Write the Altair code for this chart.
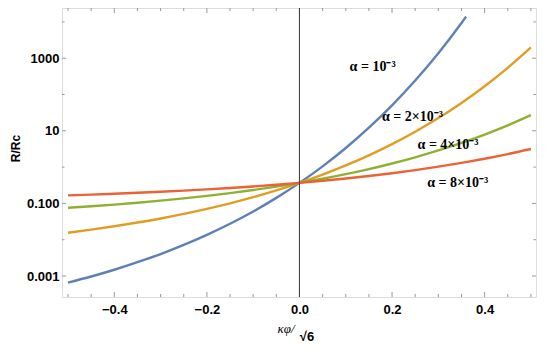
import altair as alt
import pandas as pd

# ---- data ----
x_full = [-0.5, -0.45, -0.4, -0.35, -0.3, -0.25, -0.2, -0.15, -0.1, -0.05, 0.0,
          0.05, 0.1, 0.15, 0.2, 0.25, 0.3, 0.35, 0.4, 0.45, 0.5]
x_blue = [-0.5, -0.45, -0.4, -0.35, -0.3, -0.25, -0.2, -0.15, -0.1, -0.05, 0.0,
          0.05, 0.1, 0.15, 0.2, 0.25, 0.3, 0.35, 0.36]

r_alpha1 = [6.6e-4, 9.7e-4, 1.49e-3, 2.40e-3, 4.04e-3, 7.2e-3, 0.0136, 0.0275, 0.060,
            0.142, 0.368, 1.05, 3.37, 12.2, 50.3, 242, 1370, 9310, 14000]
r_alpha2 = [0.0156, 0.0189, 0.0234, 0.0297, 0.0385, 0.0514, 0.0708, 0.1007, 0.1486,
            0.2286, 0.368, 0.623, 1.113, 2.116, 4.30, 9.43, 22.4, 58.5, 169, 543, 1980]
r_alpha4 = [0.0757, 0.0834, 0.0928, 0.1045, 0.119, 0.1375, 0.1614, 0.1924, 0.2339,
            0.290, 0.368, 0.4786, 0.640, 0.882, 1.258, 1.862, 2.873, 4.64, 7.88, 14.1, 27.0]
r_alpha8 = [0.167, 0.175, 0.185, 0.196, 0.209, 0.225, 0.2436, 0.266, 0.2933, 0.3266,
            0.368, 0.4196, 0.485, 0.570, 0.680, 0.828, 1.028, 1.306, 1.702, 2.28, 3.15]

series_keys = ["a1", "a2", "a4", "a8"]
series_colors = ["#5E81B5", "#E19C24", "#8FB032", "#EB6235"]

label_text = ["α = 10⁻³", "α = 2×10⁻³", "α = 4×10⁻³", "α = 8×10⁻³"]
label_x = [0.158, 0.244, 0.321, 0.342]
label_y = [573, 24, 4.06, 0.365]

x_major = [-0.4, -0.2, 0.0, 0.2, 0.4]
x_minor = [-0.5, -0.45, -0.35, -0.3, -0.25, -0.15, -0.1, -0.05, 0.05, 0.1, 0.15,
           0.25, 0.3, 0.35, 0.45, 0.5]
y_major = [0.001, 0.1, 10, 1000]
y_minor = [0.01, 1, 100, 10000]

# ---- build table ----
rows = []
for key, xs, ys in [("a1", x_blue, r_alpha1), ("a2", x_full, r_alpha2),
                    ("a4", x_full, r_alpha4), ("a8", x_full, r_alpha8)]:
    for xv, yv in zip(xs, ys):
        rows.append({"x": xv, "y": yv, "series": key})
df = pd.DataFrame(rows)

W, H = 474, 289
FRAME = "#999999"

xscale = alt.Scale(domain=[-0.513, 0.511], nice=False, zero=False)
yscale = alt.Scale(type="log", domain=[10 ** -3.578, 10 ** 4.383], nice=False)

x_axis = alt.Axis(values=x_major, format=".1f", labelFont="Liberation Sans",
                  labelFontWeight="bold", labelFontSize=13, labelColor="black",
                  ticks=False, domain=False, grid=False, labelPadding=6, title=None)
y_axis = alt.Axis(values=y_major,
                  labelExpr="datum.value >= 1 ? format(datum.value, 'd') : format(datum.value, '.3f')",
                  labelFont="Liberation Sans", labelFontWeight="bold", labelFontSize=13,
                  labelColor="black", ticks=False, domain=False, grid=False, labelPadding=3,
                  title="R/Rc", titleFont="Liberation Sans", titleFontWeight="bold",
                  titleFontSize=12, titleColor="black", titleX=-47, titleY=140,
                  titleAlign="center", titleBaseline="middle", titleAngle=270)


def X(field):
    return alt.X(field, scale=xscale, axis=x_axis)


def Y(field):
    return alt.Y(field, scale=yscale, axis=y_axis)


lines = alt.Chart(df).mark_line(strokeWidth=2.4, interpolate="monotone", clip=True).encode(
    x=X("x:Q"),
    y=Y("y:Q"),
    color=alt.Color("series:N", scale=alt.Scale(domain=series_keys, range=series_colors),
                    legend=None),
)

zero_line = alt.Chart(pd.DataFrame({"x": [0.0]})).mark_rule(color="#444444", strokeWidth=1.1).encode(
    x=X("x:Q")
)


def xticks(vals, y0, y1):
    return alt.Chart(pd.DataFrame({"x": vals})).mark_rule(color=FRAME, strokeWidth=1).encode(
        x=X("x:Q"), y=alt.value(y0), y2=alt.value(y1))


def yticks(vals, x0, x1):
    return alt.Chart(pd.DataFrame({"y": vals})).mark_rule(color=FRAME, strokeWidth=1).encode(
        y=Y("y:Q"), x=alt.value(x0), x2=alt.value(x1))


ticks = [
    xticks(x_major, H, H - 5), xticks(x_minor, H, H - 3),
    xticks(x_major, 0, 5), xticks(x_minor, 0, 3),
    yticks(y_major, 0, 4), yticks(y_minor, 0, 2.5),
    yticks(y_major, W, W - 4), yticks(y_minor, W, W - 2.5),
]

labels = alt.Chart(pd.DataFrame({"t": label_text, "x": label_x, "y": label_y})).mark_text(
    font="Liberation Serif", fontWeight="bold", fontSize=14, color="black",
    align="center", baseline="middle"
).encode(
    x=X("x:Q"),
    y=Y("y:Q"),
    text="t:N",
)

xtitle1 = alt.Chart(pd.DataFrame({"t": ["κφ/"]})).mark_text(
    font="Liberation Serif", fontStyle="italic", fontSize=13, color="black",
    align="center", baseline="middle"
).encode(x=alt.value(224), y=alt.value(321), text="t:N")
xtitle2 = alt.Chart(pd.DataFrame({"t": ["√6"]})).mark_text(
    font="Liberation Sans", fontWeight="bold", fontSize=13, color="black",
    align="center", baseline="middle"
).encode(x=alt.value(245), y=alt.value(329), text="t:N")

chart = alt.layer(lines, *ticks, zero_line, labels, xtitle1, xtitle2).properties(
    width=W, height=H,
    autosize=alt.AutoSizeParams(type="none"),
    padding={"left": 54, "top": 0, "right": 1, "bottom": 48},
).configure_view(stroke=FRAME, strokeWidth=1).configure(background="white")

chart.save("out.html", embed_options={"renderer": "svg", "actions": False})
